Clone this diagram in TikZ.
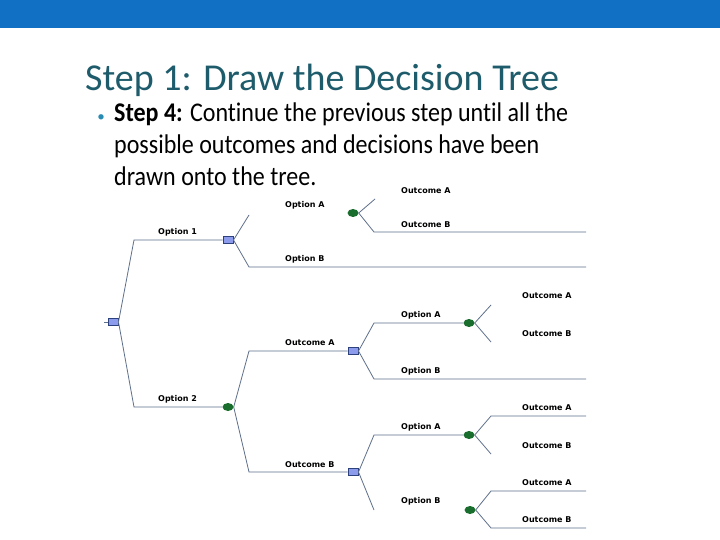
\documentclass[tikz,border=0pt]{standalone}
\usepackage{fontspec}
\setmainfont[Ligatures=NoCommon]{Carlito}
\newfontfamily\bodyfont[Ligatures=NoCommon,FakeStretch=0.89]{Carlito}
\newfontfamily\lblfont{DejaVu Sans}
\usetikzlibrary{shapes.geometric}
\definecolor{topbar}{RGB}{17,112,196}
\definecolor{titlecol}{RGB}{30,92,108}
\definecolor{bulletcol}{RGB}{40,140,180}
\definecolor{edgecol}{RGB}{95,112,140}
\definecolor{decfill}{RGB}{140,155,235}
\definecolor{decdraw}{RGB}{45,65,125}
\definecolor{chfill}{RGB}{25,110,45}
\tikzset{
  decnode/.style={rectangle, minimum width=10pt, minimum height=7pt, inner sep=0pt, fill=decfill, draw=decdraw, line width=1pt},
  chnode/.style={ellipse, minimum width=11pt, minimum height=8pt, inner sep=0pt, fill=chfill},
  edge/.style={draw=edgecol, line width=0.8pt},
  lbl/.style={anchor=west, inner sep=0pt, font=\lblfont\bfseries\fontsize{8}{9}\selectfont},
  bodytext/.style={anchor=base west, inner sep=0pt, font=\bodyfont\fontsize{27}{32}\selectfont}
}
\begin{document}
\begin{tikzpicture}[x=1pt,y=-1pt]
\useasboundingbox (0,0) rectangle (720,540);
\fill[white] (0,0) rectangle (720,540);
\fill[topbar] (0,0) rectangle (720,28);
% title and text
\node[anchor=base west, inner sep=0pt, text=titlecol, font=\fontsize{38}{45}\selectfont] (title) at (85,91) {Step 1: Draw the Decision Tree};
\node[anchor=base, inner sep=0pt, text=bulletcol, font=\fontsize{15}{18}\selectfont] (bullet) at (101,122) {•};
\node[bodytext] (body1) at (114,122) {\textbf{Step 4:} Continue the previous step until all the};
\node[bodytext] (body2) at (114,154) {possible outcomes and decisions have been};
\node[bodytext] (body3) at (114,186) {drawn onto the tree.};
% nodes
\node[decnode] (root) at (113,322) {};
\coordinate (r0) at (104,322);
\node[decnode] (dq1) at (228,240) {};
\node[chnode] (ch2) at (228,407) {};
\node[chnode] (ch1) at (353,213) {};
\node[decnode] (dq2) at (353,351) {};
\node[decnode] (dq3) at (353,472) {};
\node[chnode] (ch3) at (469,323) {};
\node[chnode] (ch4) at (469,435) {};
\node[chnode] (ch5) at (470,510) {};
% bend coordinates
\coordinate (c1u) at (134,240);
\coordinate (c1d) at (134,407);
\coordinate (a1) at (249,215);
\coordinate (b1) at (249,267);
\coordinate (b1e) at (586,267);
\coordinate (o1u) at (375,199);
\coordinate (o1d) at (374,232);
\coordinate (o1de) at (586,232);
\coordinate (a2) at (249,351);
\coordinate (b2) at (249,472);
\coordinate (a3) at (374,323);
\coordinate (b3) at (374,379);
\coordinate (b3e) at (586,379);
\coordinate (u3) at (491,305);
\coordinate (d3) at (491,342);
\coordinate (a4) at (374,435);
\coordinate (b4) at (374,510);
\coordinate (u4) at (491,416);
\coordinate (u4e) at (586,416);
\coordinate (d4) at (491,454);
\coordinate (u5) at (491,491);
\coordinate (u5e) at (586,491);
\coordinate (d5) at (491,528);
\coordinate (d5e) at (586,528);
% connectors
\draw[edge] (r0) -- (root.west);
\draw[edge] (root.east) -- (c1u) -- (dq1.west);
\draw[edge] (root.east) -- (c1d) -- (ch2.west);
\draw[edge] (dq1.east) -- (a1);
\draw[edge] (dq1.east) -- (b1) -- (b1e);
\draw[edge] (ch1.east) -- (o1u);
\draw[edge] (ch1.east) -- (o1d) -- (o1de);
\draw[edge] (ch2.east) -- (a2) -- (dq2.west);
\draw[edge] (ch2.east) -- (b2) -- (dq3.west);
\draw[edge] (dq2.east) -- (a3) -- (ch3.west);
\draw[edge] (dq2.east) -- (b3) -- (b3e);
\draw[edge] (ch3.east) -- (u3);
\draw[edge] (ch3.east) -- (d3);
\draw[edge] (dq3.east) -- (a4) -- (ch4.west);
\draw[edge] (dq3.east) -- (b4);
\draw[edge] (ch4.east) -- (u4) -- (u4e);
\draw[edge] (ch4.east) -- (d4);
\draw[edge] (ch5.east) -- (u5) -- (u5e);
\draw[edge] (ch5.east) -- (d5) -- (d5e);
% labels
\node[lbl] (l1) at (158,232) {Option 1};
\node[lbl] (l2) at (285,205) {Option A};
\node[lbl] (l3) at (285,259) {Option B};
\node[lbl] (l4) at (401,191) {Outcome A};
\node[lbl] (l5) at (401,225) {Outcome B};
\node[lbl] (l6) at (158,399) {Option 2};
\node[lbl] (l7) at (285,343) {Outcome A};
\node[lbl] (l8) at (285,465) {Outcome B};
\node[lbl] (l9) at (401,315) {Option A};
\node[lbl] (l10) at (401,371) {Option B};
\node[lbl] (l11) at (522,296) {Outcome A};
\node[lbl] (l12) at (522,334) {Outcome B};
\node[lbl] (l13) at (401,427) {Option A};
\node[lbl] (l14) at (401,501) {Option B};
\node[lbl] (l15) at (522,408) {Outcome A};
\node[lbl] (l16) at (522,446) {Outcome B};
\node[lbl] (l17) at (522,483) {Outcome A};
\node[lbl] (l18) at (522,520) {Outcome B};
\end{tikzpicture}
\end{document}
